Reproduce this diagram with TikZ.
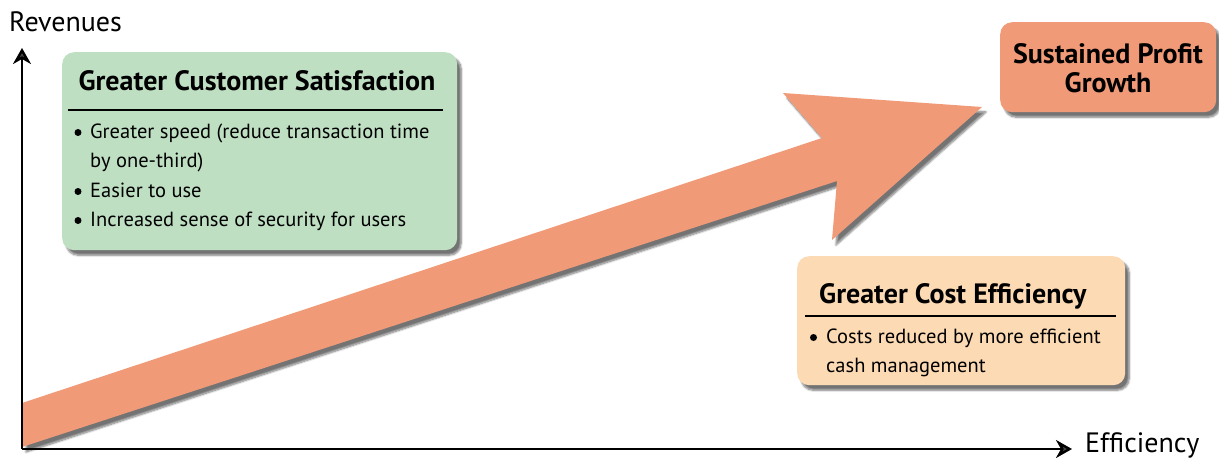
\documentclass[tikz,border=0pt]{standalone}
\usepackage{fontspec}
\setmainfont{PT Sans}
\usetikzlibrary{arrows.meta,shadows.blur}
\definecolor{salmon}{HTML}{F19A77}
\definecolor{mint}{HTML}{BFDFC3}
\definecolor{peach}{HTML}{FCDAB3}
\begin{document}
\begin{tikzpicture}[x=1pt,y=-1pt,
  softshadow/.style={blur shadow={shadow xshift=4pt,shadow yshift=-5pt,
      shadow blur steps=8,shadow opacity=55}},
  panel/.style={rounded corners=12pt,softshadow,inner sep=0pt,anchor=north west},
  heading/.style={font=\fontsize{28}{31}\selectfont\bfseries,inner sep=0pt,anchor=base},
  item/.style={font=\fontsize{20.5}{24}\selectfont,inner sep=0pt,anchor=base west},
  dot/.style={circle,fill=black,inner sep=0pt,minimum size=7pt},
  axislabel/.style={font=\fontsize{28}{31}\selectfont,inner sep=0pt,anchor=base west},
  rule/.style={line width=1.2pt},
  axis/.style={line width=2.4pt,-{Stealth[length=16pt,width=18pt,inset=5pt]}}]
\useasboundingbox (0,0) rectangle (1219,459);

% growth arrow from the origin towards profit
\fill[salmon,softshadow]
  (22,447) -- (22,403) -- (822,138) -- (783,93) -- (982,107)
  -- (832,240) -- (837,181) -- cycle;

% axes
\coordinate (origin) at (22,449);
\coordinate (ytop) at (22,48);
\coordinate (xend) at (1072,449);
\draw[axis] (origin) -- (ytop);
\draw[axis] (origin) -- (xend);
\node[axislabel] (revenues) at (9,31) {Revenues};
\node[axislabel] (efficiency) at (1085,452) {Efficiency};

% customer satisfaction panel
\node[panel,fill=mint,minimum width=395pt,minimum height=198pt] (cust) at (62,52) {};
\node[heading] (custT) at (257,90) {Greater Customer Satisfaction};
\draw[rule] (68,110) -- (443,110);
\node[dot] (c1b) at (78,132.5) {};
\node[item] (c1) at (90,138) {Greater speed (reduce transaction time};
\node[item] (c1x) at (90,167) {by one-third)};
\node[dot] (c2b) at (78,191.5) {};
\node[item] (c2) at (90,197) {Easier to use};
\node[dot] (c3b) at (78,220.5) {};
\node[item] (c3) at (90,226) {Increased sense of security for users};

% profit panel
\node[panel,fill=salmon,minimum width=216pt,minimum height=90pt] (profit) at (1000,22) {};
\node[heading] (profit1) at (1108,63) {Sustained Profit};
\node[heading] (profit2) at (1108,92) {Growth};

% cost efficiency panel
\node[panel,fill=peach,minimum width=328pt,minimum height=129pt] (cost) at (797,256) {};
\node[heading,anchor=base west] (costT) at (819,303) {Greater Cost Efficiency};
\draw[rule] (805,316) -- (1116,316);
\node[dot] (k1b) at (813.5,337.5) {};
\node[item] (k1) at (826,343) {Costs reduced by more efficient};
\node[item] (k1x) at (826,372) {cash management};
\end{tikzpicture}
\end{document}
